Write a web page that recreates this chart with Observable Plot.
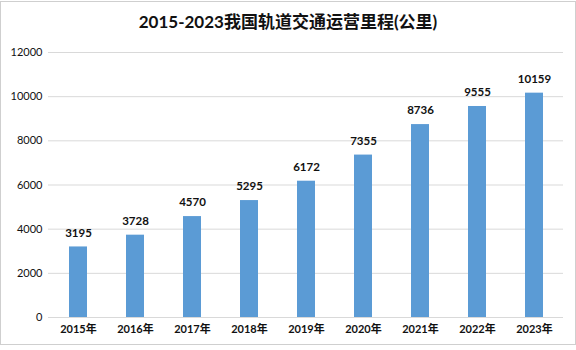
<!DOCTYPE html>
<html><head><meta charset="utf-8">
<script src="https://cdn.jsdelivr.net/npm/d3@7"></script>
<script src="https://cdn.jsdelivr.net/npm/@observablehq/plot@0.6"></script>
<style>
html,body{margin:0;padding:0;background:#fff;}
#wrap{position:relative;width:574px;height:342px;border:1px solid #cfcfcf;margin:1px 0 0 0;overflow:hidden;background:#fff;font-family:Lato,"Noto Sans CJK SC",sans-serif;}
#title{height:37px;line-height:40px;text-align:center;font-size:17px;font-weight:bold;color:#111;font-family:Lato,"Noto Sans CJK SC",sans-serif;}
</style></head>
<body><div id="wrap"><div id="title">2015-2023我国轨道交通运营里程(公里)</div><div id="chart"></div></div>
<script>
const years = ["2015年","2016年","2017年","2018年","2019年","2020年","2021年","2022年","2023年"];
const mileage = [3195,3728,4570,5295,6172,7355,8736,9555,10159];
const yTicks = [0,2000,4000,6000,8000,10000,12000];
const data = years.map((y,i)=>({year:y, value:mileage[i]}));
const chart = Plot.plot({
  width: 574, height: 305,
  marginLeft: 47, marginRight: 12, marginTop: 13, marginBottom: 27,
  style:{fontFamily:'Lato,"Noto Sans CJK SC",sans-serif', fontSize:"11px", color:"#111", background:"#fff"},
  x:{domain:years, paddingInner:0.685, paddingOuter:0.35, label:null, tickSize:0, tickPadding:8},
  y:{domain:[0,12000], ticks:yTicks, label:null, tickSize:0, tickPadding:6},
  marks:[
    Plot.gridY(yTicks,{stroke:"#d9d9d9", strokeOpacity:1}),
    Plot.barY(data,{x:"year", y:"value", fill:"#5b9bd5"}),
    Plot.text(data,{x:"year", y:"value", text:d=>String(d.value), dy:-14, fontWeight:"bold", fontSize:11.5, fill:"#111"}),
    Plot.axisX({tickSize:0, tickPadding:8, fontWeight:"bold", fontSize:11}),
    Plot.axisY({ticks:yTicks, tickSize:0, tickPadding:6, fontSize:11, tickFormat:d=>String(d)})
  ]
});
document.getElementById("chart").appendChild(chart);
</script></body></html>
